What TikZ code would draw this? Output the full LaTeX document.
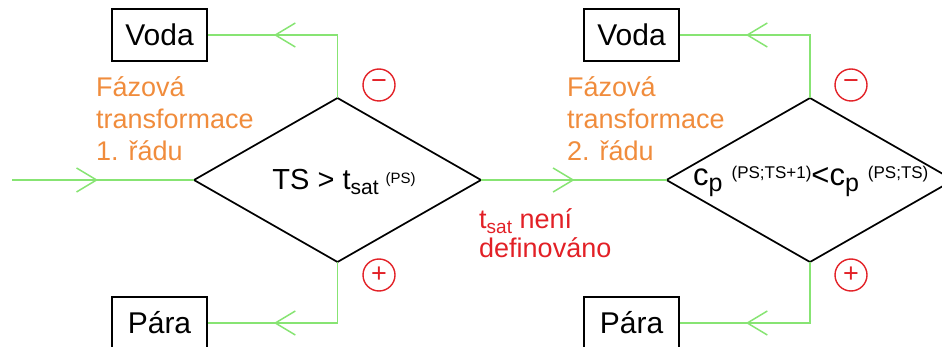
\documentclass[tikz,border=0pt]{standalone}
\usepackage{fontspec}
\setmainfont{Liberation Sans}
\usetikzlibrary{shapes.geometric,arrows.meta,decorations.markings}
\definecolor{lgreen}{RGB}{135,228,115}
\definecolor{ored}{RGB}{240,140,60}
\definecolor{rred}{RGB}{226,32,38}
\begin{document}
\begin{tikzpicture}[x=1pt,y=-1pt,
  box/.style={draw=black,line width=1.7pt,minimum width=95pt,minimum height=52pt,inner sep=0pt,font=\fontsize{30}{30}\selectfont},
  dia/.style={draw=black,line width=1.7pt,shape=diamond,minimum width=287pt,minimum height=164pt,inner sep=0pt,outer sep=0pt},
  flow/.style={draw=lgreen,line width=1.5pt},
  midarrow/.style={postaction={decorate},decoration={markings,mark=at position #1 with {\arrow[lgreen]{Straight Barb[length=20pt,width=24pt]}}}},
  sign/.style={circle,draw=rred,line width=1.4pt,minimum size=32pt,inner sep=0pt,text=rred,font=\fontsize{27}{27}\selectfont},
  orng/.style={text=ored,align=left,anchor=base west,inner sep=0pt,font=\fontsize{27}{32}\selectfont},
  rtxt/.style={text=rred,align=left,anchor=base west,inner sep=0pt,font=\fontsize{27}{29}\selectfont},
  dtxt/.style={anchor=base,inner sep=0pt,font=\fontsize{29}{29}\selectfont},
]
\useasboundingbox (0,0) rectangle (942,347);
\clip (0,0) rectangle (942,347);
% boxes
\node[box] (v1) at (159.5,35) {Voda};
\node[box] (p1) at (159.5,323) {Pára};
\node[box] (v2) at (631.5,35) {Voda};
\node[box] (p2) at (631.5,323) {Pára};
% diamonds
\node[dia] (d1) at (337.5,180) {};
\node[dia] (d2) at (810,180) {};
\node[dtxt] (t1) at (344,190) {TS > t\raisebox{-5pt}{\fontsize{21}{21}\selectfont sat}\hspace{7pt}\raisebox{6pt}{\fontsize{15}{15}\selectfont (PS)}};
\node[inner sep=0pt,anchor=base west,font=\fontsize{31}{31}\selectfont] (t2) at (693,186) {c\raisebox{-6pt}{\fontsize{25}{25}\selectfont p}\hspace{9pt}\raisebox{7pt}{\fontsize{17}{17}\selectfont (PS;TS+1)}<c\raisebox{-6pt}{\fontsize{25}{25}\selectfont p}\hspace{9pt}\raisebox{7pt}{\fontsize{17}{17}\selectfont (PS;TS)}};
% corners
\coordinate (in) at (12,180);
\coordinate (c1t) at (d1.north |- v1.east);
\coordinate (c1b) at (d1.south |- p1.east);
\coordinate (c2t) at (d2.north |- v2.east);
\coordinate (c2b) at (d2.south |- p2.east);
% connectors
\draw[flow,midarrow=-96pt] (in) -- (d1.west);
\draw[flow,midarrow=-66pt] (d1.north) -- (c1t) -- (v1.east);
\draw[flow,midarrow=-66pt] (d1.south) -- (c1b) -- (p1.east);
\draw[flow,midarrow=-92pt] (d1.east) -- (d2.west);
\draw[flow,midarrow=-66pt] (d2.north) -- (c2t) -- (v2.east);
\draw[flow,midarrow=-66pt] (d2.south) -- (c2b) -- (p2.east);
% signs
\node[sign] (s1) at (379,85) {−};
\node[sign] (s2) at (379,275) {+};
\node[sign] (s3) at (851,85) {−};
\node[sign] (s4) at (851,275) {+};
% labels
\node[orng] (o1) at (96,161) {Fázová\\transformace\\1. řádu};
\node[orng] (o2) at (567,161) {Fázová\\transformace\\2. řádu};
\node[rtxt] (r1) at (479,258) {t\raisebox{-5pt}{\fontsize{19}{19}\selectfont sat} není\\definováno};
\end{tikzpicture}
\end{document}
